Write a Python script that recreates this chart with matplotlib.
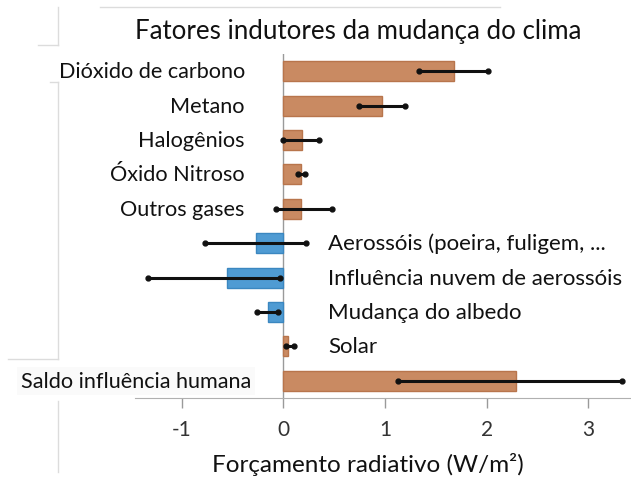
import matplotlib.pyplot as plt
from matplotlib.lines import Line2D

plt.rcParams['font.family'] = ['Lato', 'DejaVu Sans']

labels = ['Dióxido de carbono', 'Metano', 'Halogênios', 'Óxido Nitroso', 'Outros gases',
          'Aerossóis (poeira, fuligem, ...', 'Influência nuvem de aerossóis',
          'Mudança do albedo', 'Solar', 'Saldo influência humana']
values = [1.68, 0.97, 0.18, 0.17, 0.17, -0.27, -0.55, -0.15, 0.05, 2.29]
err_low = [1.33, 0.74, 0.0, 0.14, -0.07, -0.77, -1.33, -0.26, 0.03, 1.13]
err_high = [2.01, 1.20, 0.35, 0.21, 0.48, 0.22, -0.03, -0.05, 0.10, 3.33]
xticks = [-1, 0, 1, 2, 3]

orange = '#c98a62'
orange_edge = '#b8754c'
blue = '#4f9bd3'
blue_edge = '#3b87c0'

fig = plt.figure(figsize=(6.31, 4.81), dpi=100)
ax = fig.add_axes([135 / 631, 82 / 481, 496 / 631, 344 / 481])

ypos = list(range(len(labels)))
colors = [orange if v >= 0 else blue for v in values]
edges = [orange_edge if v >= 0 else blue_edge for v in values]
ax.barh(ypos, values, height=0.58, color=colors, edgecolor=edges, linewidth=1, zorder=2)

xerr = [[v - lo for v, lo in zip(values, err_low)], [hi - v for v, hi in zip(values, err_high)]]
ax.errorbar(values, ypos, xerr=xerr, fmt='none', ecolor='#111111', elinewidth=2.2,
            capsize=0, zorder=3)
# round dots at the ends of the error bars
ax.plot(err_low + err_high, ypos + ypos, 'o', color='#111111', markersize=3.5,
        linestyle='none', zorder=3)

# labels: left of the zero line for the positive bars, right of it for the others
for y, lab, v in zip(ypos, labels, values):
    if v >= 0 and lab != 'Solar':
        xl = -0.32 if lab.startswith('Saldo') else -0.38
        bg = dict(facecolor='#fafafa', edgecolor='none', pad=3) if lab.startswith('Saldo') else None
        ax.text(xl, y, lab, ha='right', va='center', fontsize=15.6, color='#111111',
                bbox=bg, zorder=4)
    else:
        ax.text(0.44, y, lab, ha='left', va='center', fontsize=16, color='#111111')

ax.axvline(0, color='#9a9a9a', linewidth=1, zorder=1)
ax.set_xlim(-1.46, 3.42)
ax.set_ylim(9.5, -0.5)
ax.set_yticks([])
ax.set_xticks(xticks)
ax.set_xticklabels([str(t) for t in xticks], fontsize=15, color='#333333')
ax.tick_params(axis='x', length=7, width=1, color='#9a9a9a', pad=8)
for s in ['top', 'right', 'left']:
    ax.spines[s].set_visible(False)
ax.spines['bottom'].set_color('#b0b0b0')

fig.text(135 / 631, 1 - 32 / 481, 'Fatores indutores da mudança do clima', ha='left',
         va='center', fontsize=18.6, color='#111111')
fig.text(368 / 631, 1 - 465 / 481, 'Forçamento radiativo (W/m²)', ha='center',
         va='center', fontsize=17.5, color='#111111')

# faint frame lines around the figure
faint = '#dcdcdc'
for xs, ys in [([58, 58], [8, 46]), ([38, 58], [46, 46]), ([50, 58], [83, 83]),
               ([58, 58], [83, 360]), ([8, 58], [360, 360]), ([58, 58], [402, 473]),
               ([100, 500], [8, 8])]:
    fig.add_artist(Line2D([x / 631 for x in xs], [1 - y / 481 for y in ys],
                          color=faint, linewidth=1))

fig.savefig('out.png', dpi=100)
